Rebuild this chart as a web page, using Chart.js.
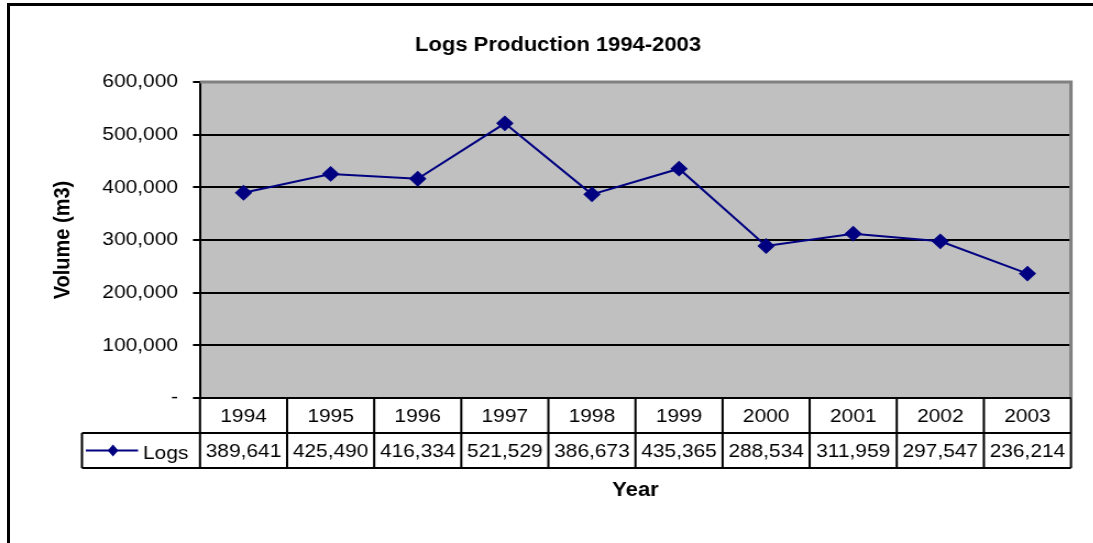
<!DOCTYPE html>
<html>
<head>
<meta charset="utf-8">
<script src="https://cdn.jsdelivr.net/npm/chart.js@4/dist/chart.umd.min.js"></script>
<style>
  body { margin: 0; background: #fff; overflow: hidden; }
  #frame { position: absolute; left: 7px; top: 3px; width: 1200px; height: 700px; border: 3px solid #000; box-sizing: border-box; }
  /* the source picture is a little wider than tall, so stretch the canvas sideways */
  #chart { position: absolute; left: 0; top: 0; transform: scaleX(1.1); transform-origin: 0 0; }
</style>
</head>
<body>
<div id="frame"></div>
<canvas id="chart" width="994" height="543"></canvas>
<script>
const years = ['1994', '1995', '1996', '1997', '1998', '1999', '2000', '2001', '2002', '2003'];
const logs = [389641, 425490, 416334, 521529, 386673, 435365, 288534, 311959, 297547, 236214];
const yTicks = [0, 100000, 200000, 300000, 400000, 500000, 600000];

const FONT = 'Liberation Sans, Arial, sans-serif';
const NAVY = '#000080';

function fmt(v) {
  return v === 0 ? '-' : v.toLocaleString('en-US');
}

//Plot area background and grey frame
const plotArea = {
  id: 'plotArea',
  beforeDraw(chart) {
    const { ctx, chartArea: a } = chart;
    ctx.save();
    ctx.fillStyle = '#c0c0c0';
    ctx.fillRect(a.left, a.top, a.right - a.left, a.bottom - a.top);
    ctx.restore();
  },
  beforeDatasetsDraw(chart) {
    const { ctx, chartArea: a } = chart;
    ctx.save();
    ctx.strokeStyle = '#808080';
    ctx.lineWidth = 3;
    ctx.beginPath();
    ctx.moveTo(a.left, a.top);
    ctx.lineTo(a.right, a.top);
    ctx.lineTo(a.right, a.bottom);
    ctx.stroke();
    ctx.restore();
  }
};

//Data table under the plot
const dataTable = {
  id: 'dataTable',
  afterDraw(chart) {
    const { ctx, chartArea: a } = chart;
    const x = chart.scales.x;
    const rowH = 35;
    const top = a.bottom;
    const legendLeft = 74.5;
    const colW = (a.right - a.left) / years.length;
    ctx.save();
    ctx.strokeStyle = '#000';
    ctx.lineWidth = 2;
    ctx.beginPath();
    ctx.moveTo(a.left, top); ctx.lineTo(a.right, top);
    ctx.moveTo(legendLeft, top + rowH); ctx.lineTo(a.right, top + rowH);
    ctx.moveTo(legendLeft, top + 2 * rowH); ctx.lineTo(a.right, top + 2 * rowH);
    ctx.moveTo(legendLeft, top + rowH); ctx.lineTo(legendLeft, top + 2 * rowH);
    for (let i = 0; i <= years.length; i++) {
      const cx = a.left + i * colW;
      ctx.moveTo(cx, top); ctx.lineTo(cx, top + 2 * rowH);
    }
    ctx.stroke();

    ctx.fillStyle = '#000';
    ctx.font = '19px ' + FONT;
    ctx.textAlign = 'center';
    ctx.textBaseline = 'middle';
    years.forEach((y, i) => {
      const cx = x.getPixelForValue(i);
      ctx.fillText(y, cx, top + rowH / 2 + 1);
      ctx.fillText(fmt(logs[i]), cx, top + rowH * 1.5 + 1);
    });

    //legend key
    const ly = top + rowH * 1.5;
    ctx.strokeStyle = NAVY;
    ctx.beginPath();
    ctx.moveTo(78, ly); ctx.lineTo(125.5, ly);
    ctx.stroke();
    ctx.fillStyle = NAVY;
    ctx.beginPath();
    ctx.moveTo(102.7, ly - 6); ctx.lineTo(107.5, ly); ctx.lineTo(102.7, ly + 6); ctx.lineTo(97.9, ly);
    ctx.closePath();
    ctx.fill();
    ctx.fillStyle = '#000';
    ctx.textAlign = 'left';
    ctx.fillText('Logs', 130, ly + 3);
    ctx.restore();
  }
};

new Chart(document.getElementById('chart'), {
  type: 'line',
  data: {
    labels: years,
    datasets: [{
      label: 'Logs',
      data: logs,
      borderColor: NAVY,
      backgroundColor: NAVY,
      borderWidth: 2,
      pointStyle: 'rectRot',
      pointRadius: 6.5,
      pointHoverRadius: 6.5,
      tension: 0
    }]
  },
  plugins: [plotArea, dataTable],
  options: {
    responsive: false,
    animation: false,
    layout: { padding: { top: 0, right: 20.4, bottom: 0, left: 41 } },
    plugins: {
      legend: { display: false },
      tooltip: { enabled: false },
      title: {
        display: true,
        text: 'Logs Production 1994-2003',
        color: '#000',
        font: { family: FONT, size: 20, weight: 'bold' },
        padding: { top: 33, bottom: 25 }
      }
    },
    scales: {
      x: {
        offset: true,
        grid: { display: false },
        border: { display: false },
        ticks: { display: false },
        title: {
          display: true,
          text: 'Year',
          color: '#000',
          font: { family: FONT, size: 20, weight: 'bold' },
          padding: { top: 0, bottom: 41 }
        },
        afterFit(s) { s.height = 145; }
      },
      y: {
        min: 0,
        max: 600000,
        afterBuildTicks(s) { s.ticks = yTicks.map(v => ({ value: v })); },
        grid: { color: '#000', lineWidth: 2, tickLength: 6.4 },
        border: { color: '#000', width: 2 },
        ticks: {
          color: '#000',
          padding: 13.6,
          font: { family: FONT, size: 19 },
          callback: v => fmt(v)
        },
        title: {
          display: true,
          text: 'Volume (m3)',
          color: '#000',
          font: { family: FONT, size: 20, weight: 'bold' },
          padding: { top: 4, bottom: 0 }
        },
        afterFit(s) { s.width = 140.8; }
      }
    }
  }
});
</script>
</body>
</html>
